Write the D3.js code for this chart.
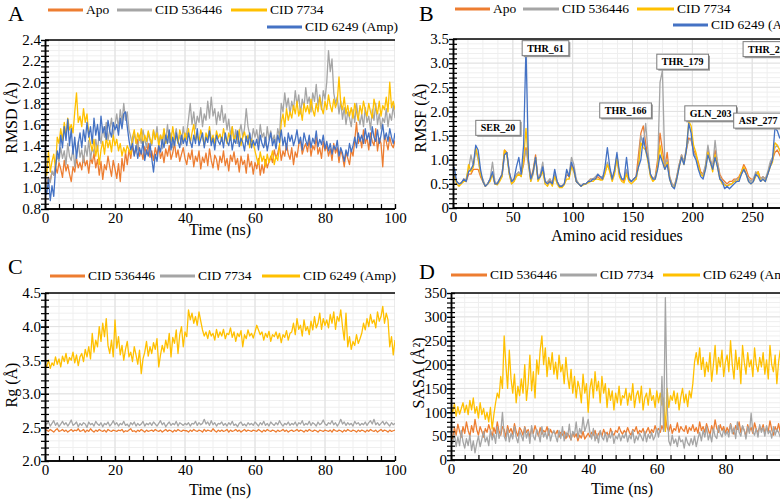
<!DOCTYPE html>
<html><head><meta charset="utf-8">
<script src="https://cdn.jsdelivr.net/npm/d3@7"></script>
<style>
body{margin:0;background:#fff}
svg{display:block}
svg text{font-family:"Liberation Serif","Times New Roman",serif !important;fill:#000}
</style>
</head><body>
<svg id="chart" width="780" height="501"></svg>
<script>
// ---------------- DATA ----------------
// Panel A: RMSD (Å) vs time 0..100 ns (0.5 ns sampling)
const rmsdApo = [1.00,
1.04,1.10,1.07,1.15,1.12,1.20,1.14,1.24,1.18,1.10,1.26,1.16,1.22,1.13,1.06,1.20,1.15,1.28,1.19,1.24,
1.17,1.30,1.21,1.26,1.14,1.29,1.23,1.33,1.19,1.27,1.12,1.25,1.08,1.22,1.17,1.30,1.20,1.11,1.26,1.18,
1.09,1.23,1.06,1.28,1.16,1.34,1.22,1.36,1.28,1.40,1.31,1.37,1.46,1.30,1.35,1.27,1.39,1.32,1.42,1.29,
1.35,1.26,1.38,1.31,1.41,1.28,1.34,1.24,1.37,1.30,1.40,1.27,1.33,1.43,1.29,1.36,1.25,1.32,1.38,1.28,
1.22,1.33,1.27,1.36,1.20,1.30,1.25,1.35,1.18,1.29,1.24,1.33,1.21,1.37,1.26,1.19,1.31,1.27,1.17,1.30,
1.24,1.35,1.21,1.28,1.16,1.31,1.25,1.34,1.22,1.28,1.15,1.30,1.22,1.26,1.14,1.32,1.20,1.25,1.13,1.24,
1.18,1.28,1.12,1.22,1.14,1.27,1.19,1.25,1.30,1.24,1.36,1.28,1.33,1.40,1.26,1.35,1.30,1.42,1.32,1.27,
1.38,1.22,1.34,1.29,1.41,1.45,1.32,1.38,1.42,1.34,1.46,1.30,1.40,1.36,1.48,1.32,1.38,1.28,1.44,1.35,
1.40,1.30,1.37,1.26,1.42,1.33,1.38,1.24,1.36,1.30,1.20,1.34,1.28,1.22,1.36,1.30,1.45,1.62,1.42,1.48,
1.38,1.55,1.42,1.48,1.36,1.52,1.44,1.40,1.56,1.35,1.47,1.42,1.20,1.50,1.44,1.36,1.48,1.41,1.38,1.45];
const rmsd536446 = [0.98,
1.02,1.10,1.05,1.16,1.12,1.22,1.30,1.25,1.38,1.28,1.35,1.22,1.42,1.30,1.26,1.38,1.20,1.33,1.44,1.29,
1.36,1.24,1.40,1.30,1.45,1.27,1.38,1.33,1.46,1.35,1.52,1.42,1.58,1.48,1.62,1.45,1.55,1.66,1.50,1.60,
1.70,1.56,1.74,1.62,1.80,1.64,1.72,1.55,1.48,1.40,1.52,1.44,1.36,1.50,1.42,1.55,1.46,1.38,1.52,1.45,
1.40,1.54,1.46,1.58,1.42,1.50,1.37,1.55,1.45,1.60,1.43,1.52,1.38,1.48,1.56,1.44,1.50,1.41,1.58,1.47,
1.52,1.65,1.80,1.60,1.72,1.56,1.68,1.62,1.76,1.58,1.70,1.64,1.82,1.66,1.86,1.68,1.75,1.60,1.72,1.64,
1.78,1.62,1.70,1.55,1.65,1.50,1.58,1.45,1.55,1.42,1.52,1.60,1.48,1.56,1.75,1.58,1.50,1.44,1.56,1.48,
1.55,1.42,1.60,1.48,1.52,1.40,1.58,1.46,1.54,1.44,1.50,1.42,1.56,1.48,1.80,1.72,1.90,1.76,1.85,1.70,
1.82,1.74,1.92,1.78,1.88,1.70,1.84,1.76,1.95,1.80,1.86,1.72,1.90,1.82,1.98,1.78,1.88,1.74,1.92,1.84,
2.00,2.30,2.10,2.22,1.90,1.80,1.86,1.70,1.82,1.65,1.76,1.60,1.72,1.66,1.58,1.74,1.62,1.80,1.68,1.60,
1.70,1.58,1.76,1.62,1.68,1.55,1.74,1.64,1.80,1.60,1.70,1.56,1.66,1.62,1.75,1.58,1.70,1.64,1.78,1.66];
const rmsd7734 = [1.20,
1.12,1.35,1.15,1.25,1.32,1.18,1.48,1.42,1.56,1.45,1.62,1.50,1.66,1.55,1.60,1.52,1.72,1.90,1.62,1.68,
1.58,1.75,1.62,1.70,1.50,1.42,1.35,1.46,1.30,1.40,1.22,1.36,1.44,1.32,1.48,1.38,1.45,1.34,1.50,1.40,
1.46,1.35,1.42,1.30,1.38,1.33,1.40,1.36,1.32,1.48,1.55,1.42,1.52,1.45,1.56,1.40,1.50,1.44,1.54,1.47,
1.42,1.55,1.46,1.52,1.40,1.50,1.45,1.56,1.42,1.48,1.53,1.44,1.58,1.46,1.50,1.42,1.55,1.48,1.44,1.52,
1.46,1.56,1.42,1.52,1.60,1.45,1.50,1.43,1.55,1.48,1.40,1.52,1.46,1.58,1.44,1.50,1.42,1.54,1.47,1.51,
1.44,1.56,1.48,1.42,1.52,1.45,1.58,1.43,1.50,1.46,1.55,1.40,1.48,1.53,1.44,1.50,1.38,1.46,1.42,1.35,
1.28,1.22,1.34,1.25,1.30,1.20,1.32,1.24,1.28,1.35,1.22,1.30,1.26,1.40,1.62,1.70,1.58,1.75,1.64,1.72,
1.66,1.78,1.70,1.82,1.68,1.75,1.64,1.80,1.72,1.78,1.70,1.84,1.74,1.68,1.80,1.72,1.86,1.76,1.70,1.82,
1.74,1.88,1.78,1.72,1.84,1.76,1.82,2.05,1.80,1.74,1.86,1.70,1.78,1.68,1.76,1.66,1.80,1.72,1.64,1.78,
1.70,1.82,1.74,1.68,1.80,1.72,1.66,1.84,1.76,1.70,1.82,1.68,1.78,1.74,1.86,1.72,2.00,1.76,1.82,1.74];
const rmsd6249 = [1.00,
0.94,1.08,0.88,1.02,0.92,1.18,1.35,1.28,1.50,1.38,1.58,1.45,1.65,1.40,1.56,1.32,1.48,1.28,1.42,1.52,
1.38,1.55,1.44,1.62,1.48,1.58,1.42,1.66,1.50,1.60,1.45,1.68,1.52,1.58,1.46,1.64,1.54,1.48,1.62,1.55,
1.60,1.50,1.66,1.56,1.70,1.72,1.58,1.45,1.36,1.42,1.30,1.40,1.28,1.38,1.32,1.44,1.26,1.36,1.30,1.42,
1.28,1.15,1.32,1.25,1.40,1.34,1.46,1.38,1.50,1.42,1.55,1.36,1.48,1.40,1.52,1.44,1.38,1.50,1.42,1.47,
1.40,1.52,1.44,1.38,1.50,1.42,1.56,1.40,1.46,1.52,1.38,1.48,1.43,1.54,1.40,1.47,1.36,1.50,1.44,1.41,
1.48,1.38,1.52,1.44,1.40,1.50,1.36,1.46,1.42,1.54,1.39,1.47,1.43,1.35,1.49,1.41,1.52,1.38,1.45,1.40,
1.46,1.36,1.50,1.42,1.38,1.48,1.35,1.44,1.52,1.40,1.46,1.37,1.50,1.43,1.55,1.40,1.48,1.36,1.52,1.44,
1.50,1.40,1.46,1.55,1.42,1.48,1.36,1.52,1.45,1.40,1.50,1.38,1.47,1.42,1.54,1.39,1.46,1.41,1.50,1.37,
1.44,1.35,1.42,1.32,1.40,1.36,1.45,1.30,1.38,1.33,1.25,1.36,1.30,1.42,1.34,1.40,1.48,1.38,1.52,1.44,
1.50,1.42,1.56,1.46,1.52,1.40,1.58,1.48,1.44,1.55,1.42,1.50,1.60,1.46,1.52,1.44,1.56,1.48,1.42,1.52];

// Panel B: RMSF (Å) per residue (odd residues 1,3,5,...)
const rmsfApo = [
0.7,0.55,0.5,0.52,0.6,0.55,0.7,0.7,0.8,0.8,0.8,0.65,0.55,0.45,0.5,0.6,0.7,0.5,0.5,0.6,0.7,1.2,1.15,0.75,0.55,
0.6,0.7,0.7,0.7,0.9,1.25,1.0,0.6,0.8,1.1,0.6,0.7,0.8,0.55,0.5,0.6,0.5,0.7,0.55,0.45,0.45,0.5,0.7,0.65,0.9,
0.8,0.55,0.5,0.45,0.5,0.5,0.55,0.6,0.6,0.6,0.65,0.6,0.6,0.75,0.9,0.8,0.6,0.75,1.05,0.7,0.6,0.55,0.75,0.6,0.55,
0.6,0.65,1.1,1.55,1.7,1.35,1.0,0.7,0.6,0.65,1.0,1.55,1.2,0.85,1.15,0.65,0.5,0.45,0.65,0.9,1.1,0.95,1.2,1.45,1.4,
1.2,1.1,0.95,0.75,0.7,0.85,1.2,1.0,0.85,1.2,0.95,0.7,0.6,0.55,0.5,0.55,0.55,0.6,0.6,0.65,0.75,0.9,0.8,0.65,0.6,
0.6,0.7,0.75,0.6,0.65,0.6,0.7,0.9,1.0,1.15,1.2,1.1,1.0,0.95,0.9,1.05,1.25,1.4,1.1,0.95];
const rmsf536446 = [
0.7,0.55,0.5,0.52,0.58,0.6,0.8,1.1,0.85,1.2,1.0,0.7,0.6,0.45,0.5,0.6,0.95,0.55,0.5,0.6,0.65,1.1,1.15,0.7,0.5,
0.55,0.7,0.75,0.65,1.0,1.2,0.9,0.55,0.7,1.05,0.6,0.7,0.95,0.5,0.55,0.6,0.5,0.7,0.55,0.45,0.45,0.5,0.7,0.7,1.05,
0.9,0.6,0.5,0.45,0.5,0.5,0.55,0.6,0.6,0.65,0.7,0.65,0.65,0.75,0.95,0.8,0.6,0.75,1.1,0.7,0.6,0.6,0.8,0.6,0.55,
0.6,0.6,0.9,1.5,1.3,1.75,1.15,0.7,0.6,0.65,0.85,2.6,2.85,0.9,1.0,0.65,0.5,0.45,0.65,0.9,1.1,0.95,1.25,1.4,1.45,
1.15,1.05,0.85,0.7,0.7,0.9,1.3,1.0,0.85,1.4,0.95,0.65,0.55,0.5,0.45,0.5,0.5,0.55,0.6,0.6,0.7,0.8,0.7,0.6,0.55,
0.6,0.75,0.7,0.6,0.65,0.6,0.75,0.95,1.05,1.25,1.3,1.2,1.1,1.0,0.95,1.1,1.3,1.5,1.2,1.0];
const rmsf7734 = [
0.65,0.5,0.45,0.5,0.55,0.55,0.9,0.75,0.85,1.25,1.05,0.7,0.55,0.45,0.5,0.55,0.7,0.5,0.48,0.55,0.65,1.2,1.1,0.7,0.5,
0.55,0.65,0.7,0.65,1.0,1.65,0.95,0.55,0.75,1.05,0.55,0.65,0.75,0.5,0.45,0.55,0.45,0.65,0.5,0.42,0.42,0.48,0.6,0.6,0.85,
0.75,0.55,0.5,0.45,0.48,0.5,0.52,0.55,0.55,0.6,0.6,0.58,0.58,0.7,0.9,0.75,0.55,0.7,1.05,0.65,0.55,0.52,0.7,0.55,0.5,
0.55,0.6,0.85,1.35,1.25,1.2,0.95,0.65,0.55,0.6,0.85,1.3,1.0,0.8,0.95,0.6,0.45,0.42,0.6,0.85,1.05,0.9,1.2,1.8,1.7,
1.3,1.15,0.9,0.7,0.65,0.8,1.15,0.95,0.75,1.1,0.85,0.6,0.5,0.48,0.45,0.48,0.5,0.55,0.55,0.6,0.75,0.85,0.7,0.55,0.5,
0.55,0.65,0.75,0.55,0.6,0.55,0.7,0.85,0.95,1.35,1.3,1.2,1.05,0.95,0.9,1.05,1.2,1.3,1.0,0.9];
const rmsf6249 = [
0.85,0.55,0.5,0.52,0.6,0.55,0.75,0.8,0.9,1.3,1.2,0.8,0.55,0.45,0.5,0.6,0.75,0.5,0.5,0.6,0.7,1.1,1.15,0.75,0.55,
0.6,0.85,1.05,0.7,1.3,3.35,1.0,0.6,0.75,1.05,0.6,0.65,0.85,0.55,0.5,0.55,0.5,0.8,0.55,0.45,0.45,0.5,0.8,0.65,0.95,
0.8,0.55,0.5,0.45,0.5,0.5,0.55,0.55,0.6,0.6,0.7,0.65,0.6,0.85,1.25,0.85,0.6,0.8,1.15,0.75,0.6,0.6,1.05,0.6,0.55,
0.6,0.65,0.85,1.0,1.45,1.2,1.0,0.7,0.6,0.6,0.8,1.1,0.95,0.8,0.9,0.6,0.45,0.4,0.6,0.85,1.05,0.9,1.2,1.75,1.55,
1.1,1.0,0.8,0.65,0.6,0.8,1.1,0.95,0.8,1.05,0.85,0.6,0.55,0.4,0.45,0.4,0.45,0.5,0.55,0.55,0.7,0.8,0.7,0.55,0.5,
0.55,0.7,0.65,0.55,0.6,0.55,0.7,0.85,1.0,1.65,1.6,1.45,1.5,1.3,1.1,1.2,1.5,1.9,1.4,1.1];
const rmsfLabels = ["SER_20","THR_61","THR_166","THR_179","GLN_203","ASP_277","THR_292"];
const rmsfLabelAt = [[37.6,1.66],[77.3,3.31],[144.2,2.02],[191.9,3.03],[215.3,1.96],[255,1.81],[264,3.29]];

// Panel C: Rg (Å) vs time
const rg536446 = [2.45,
2.46,2.44,2.47,2.45,2.43,2.46,2.48,2.44,2.45,2.47,2.44,2.46,2.43,2.45,2.47,2.44,2.46,2.45,2.48,2.44,
2.45,2.47,2.43,2.46,2.44,2.48,2.45,2.43,2.46,2.44,2.47,2.45,2.44,2.46,2.43,2.47,2.45,2.44,2.46,2.45,
2.44,2.46,2.45,2.47,2.43,2.45,2.44,2.46,2.48,2.44,2.45,2.43,2.46,2.44,2.47,2.45,2.43,2.46,2.44,2.45,
2.46,2.44,2.47,2.45,2.44,2.46,2.43,2.45,2.47,2.44,2.46,2.45,2.43,2.46,2.44,2.47,2.45,2.44,2.46,2.45,
2.45,2.43,2.46,2.44,2.47,2.45,2.44,2.46,2.45,2.43,2.47,2.44,2.46,2.45,2.44,2.48,2.45,2.43,2.46,2.44,
2.46,2.44,2.45,2.47,2.43,2.46,2.44,2.45,2.47,2.44,2.46,2.43,2.45,2.47,2.44,2.46,2.45,2.44,2.46,2.45,
2.44,2.47,2.45,2.43,2.46,2.44,2.47,2.45,2.44,2.46,2.45,2.43,2.46,2.44,2.45,2.47,2.44,2.46,2.43,2.45,
2.46,2.44,2.45,2.47,2.44,2.46,2.45,2.43,2.46,2.44,2.47,2.45,2.44,2.46,2.45,2.43,2.46,2.45,2.44,2.46,
2.45,2.44,2.46,2.43,2.47,2.45,2.44,2.46,2.45,2.43,2.46,2.44,2.47,2.45,2.44,2.46,2.45,2.43,2.46,2.44,
2.46,2.45,2.43,2.46,2.44,2.47,2.45,2.44,2.46,2.43,2.45,2.47,2.44,2.46,2.45,2.43,2.46,2.44,2.45,2.46];
const rg7734 = [2.56,
2.55,2.58,2.52,2.56,2.60,2.53,2.57,2.51,2.55,2.59,2.54,2.57,2.52,2.56,2.61,2.53,2.55,2.58,2.51,2.56,
2.53,2.57,2.55,2.50,2.58,2.54,2.56,2.52,2.59,2.55,2.53,2.57,2.51,2.56,2.54,2.58,2.52,2.55,2.60,2.54,
2.57,2.52,2.56,2.54,2.59,2.53,2.55,2.51,2.57,2.54,2.58,2.52,2.56,2.53,2.55,2.59,2.52,2.56,2.54,2.57,
2.53,2.58,2.55,2.52,2.56,2.60,2.54,2.57,2.51,2.55,2.58,2.53,2.56,2.54,2.59,2.52,2.57,2.55,2.53,2.56,
2.54,2.57,2.52,2.56,2.55,2.59,2.53,2.57,2.54,2.56,2.62,2.55,2.58,2.53,2.60,2.54,2.57,2.52,2.56,2.55,
2.58,2.53,2.56,2.52,2.57,2.54,2.59,2.53,2.55,2.51,2.56,2.58,2.53,2.55,2.52,2.57,2.54,2.56,2.53,2.58,
2.55,2.52,2.57,2.54,2.59,2.53,2.56,2.52,2.58,2.55,2.53,2.57,2.54,2.60,2.55,2.52,2.56,2.54,2.58,2.53,
2.56,2.54,2.58,2.52,2.57,2.55,2.60,2.53,2.56,2.54,2.59,2.53,2.57,2.55,2.52,2.58,2.54,2.56,2.61,2.55,
2.53,2.57,2.55,2.60,2.54,2.57,2.52,2.56,2.62,2.55,2.58,2.53,2.57,2.54,2.56,2.52,2.59,2.55,2.57,2.53,
2.56,2.54,2.58,2.53,2.57,2.60,2.55,2.62,2.54,2.57,2.53,2.56,2.59,2.54,2.58,2.55,2.52,2.57,2.54,2.56];
const rg6249 = [3.45,
3.40,3.50,3.38,3.46,3.42,3.55,3.44,3.52,3.40,3.56,3.48,3.60,3.45,3.54,3.50,3.62,3.46,3.58,3.42,3.55,
3.60,3.48,3.66,3.55,3.70,3.52,3.90,3.62,3.80,3.70,4.00,3.78,4.05,3.85,4.12,3.72,3.60,3.80,3.55,4.10,
3.68,3.85,3.58,3.72,3.50,3.66,3.78,3.55,3.62,3.48,3.70,3.58,3.44,3.65,3.30,3.52,3.62,3.78,3.56,3.70,
3.60,3.76,3.66,3.82,3.40,3.58,3.72,3.62,3.80,3.68,3.90,3.55,3.84,3.75,3.95,3.60,3.88,4.00,3.70,3.92,
3.85,4.25,4.10,4.20,4.05,4.15,4.02,4.22,4.08,3.95,3.86,3.92,3.82,3.94,3.86,3.90,3.80,3.96,3.84,3.92,
3.86,3.96,3.82,3.90,3.88,3.98,3.84,3.92,3.78,3.90,3.85,3.94,3.70,3.88,3.82,3.95,3.86,3.90,3.83,3.92,
4.02,3.95,3.88,3.92,3.80,3.90,3.84,3.93,3.78,3.88,3.85,3.92,3.82,3.90,3.76,3.88,3.84,3.94,3.80,3.90,
3.92,4.05,3.88,4.12,3.96,4.02,3.86,4.10,3.94,4.00,3.88,4.08,3.95,4.15,3.98,4.05,4.20,3.96,4.12,4.02,
4.10,3.98,4.18,4.05,4.22,3.96,4.15,4.08,4.25,4.00,3.80,4.20,3.70,3.85,3.66,3.78,3.72,3.88,3.75,3.82,
3.90,4.05,3.95,4.12,4.00,4.18,4.05,4.10,3.98,4.22,4.08,4.15,4.30,4.05,4.20,4.10,3.70,3.85,3.58,3.80];

// Panel D: SASA (Å²) vs time
const sasa536446 = [55,
45,68,52,75,60,48,70,56,80,62,50,72,58,85,64,52,70,60,48,66,
58,74,62,50,68,56,80,60,52,70,64,48,72,58,66,54,76,60,50,68,
62,52,70,58,64,48,66,56,72,60,50,68,54,62,58,70,52,64,56,60,
54,62,48,58,52,60,45,56,50,42,58,48,55,40,52,46,60,44,50,56,
48,58,52,62,46,55,60,50,64,54,58,48,66,56,52,62,58,70,60,54,
62,56,68,58,52,64,60,70,55,62,58,66,52,60,68,56,64,58,72,60,
66,58,72,62,90,68,60,74,56,66,62,78,58,70,64,60,72,56,68,62,
74,60,68,56,80,62,70,58,76,64,52,72,60,84,66,58,74,62,70,56,
68,58,76,62,54,72,64,80,58,70,62,50,74,60,68,56,78,64,58,70,
62,74,56,68,60,82,64,52,70,60,76,58,66,54,72,62,58,68,56,64];
const sasa7734 = [40,
35,55,28,48,30,62,38,25,45,30,52,20,40,15,35,50,28,44,60,38,
48,30,62,42,55,35,70,45,58,100,50,40,65,38,56,44,70,48,36,60,
52,40,68,46,60,35,72,50,42,64,55,38,70,48,58,44,66,40,54,62,
50,38,62,45,70,40,58,48,75,42,60,52,80,46,66,55,90,60,72,85,
58,44,66,40,55,36,62,48,42,58,38,54,46,60,35,50,44,56,40,52,
46,58,38,52,44,62,36,50,42,56,48,40,60,38,54,45,58,42,50,66,
48,70,175,60,340,120,40,30,52,35,44,28,50,38,42,25,48,36,30,45,
32,50,28,45,58,40,62,48,70,42,55,38,66,50,45,72,56,48,64,52,
60,48,75,55,68,45,80,58,50,72,62,44,70,56,98,60,52,66,48,74,
58,68,50,72,55,62,46,70,52,64,58,48,66,40,35,30,42,28,38,32];
const sasa6249 = [110,
100,118,92,112,96,108,120,100,115,95,125,105,130,98,112,88,120,95,108,85,
100,80,110,65,95,120,140,130,175,150,260,200,150,230,170,140,180,120,155,135,
170,140,200,125,160,220,145,185,130,210,180,230,260,200,235,175,215,190,225,180,
205,170,220,185,200,160,215,175,150,190,140,175,130,165,150,120,180,140,160,100,
150,170,130,185,145,165,120,175,140,160,110,150,125,145,105,140,120,155,115,135,
130,150,115,140,125,160,110,135,145,120,155,105,130,140,115,150,125,135,110,145,
120,140,115,130,60,150,110,135,125,145,118,140,105,132,150,120,138,112,145,130,
160,205,225,200,235,190,215,175,205,185,225,165,200,240,180,215,195,230,175,205,
220,185,250,200,170,230,190,215,160,240,205,180,225,195,210,175,235,200,185,215,
195,225,180,210,170,240,200,185,220,160,205,230,190,215,175,250,200,225,190,210];

const xTickA = [0,20,40,60,80,100];
const yTickA = [0.8,1.0,1.2,1.4,1.6,1.8,2.0,2.2,2.4];
const xTickB = [0,50,100,150,200,250];
const yTickB = [0,0.5,1.0,1.5,2.0,2.5,3.0,3.5];
const yTickC = [2.0,2.5,3.0,3.5,4.0,4.5];
const yTickD = [0,50,100,150,200,250,300,350];

const COL = {orange:"#ED7D31", gray:"#A5A5A5", yellow:"#FFC000", blue:"#4472C4"};
const W = 780;
const FONT = '"Liberation Serif","Times New Roman",serif';
const svg = d3.select("#chart");
const defs = svg.append("defs");

const timeOf = arr => arr.map((v,i)=>[i*100/(arr.length-1), v]);
const resOf = arr => arr.map((v,i)=>[1+2*i, v]);

function drawPanel(p){
  const x = d3.scaleLinear().domain(p.xDomain).range(p.xRange);
  const y = d3.scaleLinear().domain(p.yDomain).range(p.yRange);
  const left = p.xRange[0], right = Math.min(p.xRange[1], W);
  const yb = p.yRange[0], yt = p.yRange[1];
  const g = svg.append("g");
  const cid = "clip-"+p.key;
  defs.append("clipPath").attr("id",cid).append("rect")
    .attr("x",left).attr("y",yt).attr("width",right-left).attr("height",yb-yt);
  const inView = v => x(v) <= W + 0.5;
  const eps = 1e-9;
  const xMinor = d3.range(p.xDomain[0], p.xDomain[1]+eps, p.xMinor).filter(inView);
  const yMinor = d3.range(p.yDomain[0], p.yDomain[1]+eps, p.yMinor);
  const grid = g.append("g").attr("clip-path",`url(#${cid})`);
  grid.selectAll(".gx").data(xMinor).join("line")
    .attr("x1",d=>x(d)).attr("x2",d=>x(d)).attr("y1",yt).attr("y2",yb)
    .attr("stroke","#efefef").attr("stroke-width",1);
  grid.selectAll(".gy").data(yMinor).join("line")
    .attr("x1",left).attr("x2",right).attr("y1",d=>y(d)).attr("y2",d=>y(d))
    .attr("stroke","#efefef").attr("stroke-width",1);
  grid.selectAll(".gX").data(p.xTicks.filter(inView)).join("line")
    .attr("x1",d=>x(d)).attr("x2",d=>x(d)).attr("y1",yt).attr("y2",yb)
    .attr("stroke","#dedede").attr("stroke-width",1);
  grid.selectAll(".gY").data(p.yTicks).join("line")
    .attr("x1",left).attr("x2",right).attr("y1",d=>y(d)).attr("y2",d=>y(d))
    .attr("stroke","#e2e2e2").attr("stroke-width",1);

  const line = d3.line().x(d=>x(d[0])).y(d=>y(d[1]));
  const lg = g.append("g").attr("clip-path",`url(#${cid})`);
  p.series.forEach(s=>{
    lg.append("path").datum(s.points).attr("d",line)
      .attr("fill","none").attr("stroke",s.color).attr("stroke-width",1.3)
      .attr("stroke-linejoin","round");
  });

  g.append("line").attr("x1",left).attr("x2",right).attr("y1",yt).attr("y2",yt)
    .attr("stroke","#000").attr("stroke-width",1.5);

  const xa = g.append("g").attr("transform",`translate(0,${yb})`);
  xa.call(d3.axisBottom(x).tickValues(xMinor).tickSize(-5).tickSizeOuter(0).tickFormat(""));
  const xl = g.append("g").attr("transform",`translate(0,${yb})`);
  xl.call(d3.axisBottom(x).tickValues(p.xTicks.filter(inView)).tickSize(-5).tickSizeOuter(0).tickPadding(3).tickFormat(d3.format("d")));
  [xa,xl].forEach(a=>{
    a.attr("font-family",null).attr("font-size",null);
    a.select(".domain").attr("stroke","#000").attr("stroke-width",1.5).attr("d",`M${left},0H${right}`);
    a.selectAll(".tick line").attr("stroke","#000").attr("stroke-width",1.2);
  });
  xl.selectAll("text").style("font-size","15px").style("font-family",FONT);

  const ya = g.append("g").attr("transform",`translate(${left},0)`);
  ya.call(d3.axisLeft(y).tickValues(yMinor).tickSize(4).tickSizeOuter(0).tickFormat(""));
  const yl = g.append("g").attr("transform",`translate(${left},0)`);
  yl.call(d3.axisLeft(y).tickValues(p.yTicks).tickSize(4).tickSizeOuter(0).tickPadding(0).tickFormat(p.yFormat));
  [ya,yl].forEach(a=>{
    a.attr("font-family",null).attr("font-size",null);
    a.select(".domain").attr("stroke","#000").attr("stroke-width",1.5);
    a.selectAll(".tick line").attr("x1",4).attr("stroke","#000").attr("stroke-width",1.2);
  });
  yl.selectAll("text").style("font-size","15px").style("font-family",FONT);

  svg.append("text").attr("x",p.xTitle[0]).attr("y",p.xTitle[1]).attr("text-anchor","middle")
    .style("font-size","16px").text(p.xLabel);
  svg.append("text").attr("transform",`translate(${p.yTitle[0]},${p.yTitle[1]}) rotate(-90)`)
    .attr("text-anchor","middle").style("font-size","16px").text(p.yLabel);
  svg.append("text").attr("x",p.letter[0]).attr("y",p.letter[1]).style("font-size","22px").text(p.key);

  p.legend.forEach((it,i)=>{
    const pos = p.legendPos[i];
    svg.append("line").attr("x1",pos[0]).attr("x2",pos[0]+pos[2]).attr("y1",pos[1]).attr("y2",pos[1])
      .attr("stroke",it.color).attr("stroke-width",3);
    svg.append("text").attr("x",pos[0]+pos[2]+3).attr("y",pos[1]).attr("dy","0.33em")
      .style("font-size","13.5px").text(it.name);
  });
  return {x,y,g};
}

drawPanel({
  key:"A", xDomain:[0,100], xRange:[45,395], yDomain:[0.8,2.4], yRange:[209,40],
  xTicks:xTickA, yTicks:yTickA, xMinor:4, yMinor:0.05, yFormat:d3.format(".1f"),
  series:[
    {points:timeOf(rmsdApo), color:COL.orange},
    {points:timeOf(rmsd536446), color:COL.gray},
    {points:timeOf(rmsd7734), color:COL.yellow},
    {points:timeOf(rmsd6249), color:COL.blue}],
  xLabel:"Time (ns)", xTitle:[220,235], yLabel:"RMSD (Å)", yTitle:[17,118], letter:[8,21],
  legend:[{name:"Apo",color:COL.orange},{name:"CID 536446",color:COL.gray},{name:"CID 7734",color:COL.yellow},{name:"CID 6249 (Amp)",color:COL.blue}],
  legendPos:[[48,10,35],[117,10,35],[231,10,36],[267,27,35]]
});

const pB = drawPanel({
  key:"B", xDomain:[0,300], xRange:[453,812], yDomain:[0,3.5], yRange:[208,39],
  xTicks:xTickB, yTicks:yTickB, xMinor:12.5, yMinor:0.1, yFormat:d=>d===0?"0":d3.format(".1f")(d),
  series:[
    {points:resOf(rmsfApo), color:COL.orange},
    {points:resOf(rmsf536446), color:COL.gray},
    {points:resOf(rmsf7734), color:COL.yellow},
    {points:resOf(rmsf6249), color:COL.blue}],
  xLabel:"Amino acid residues", xTitle:[617,241], yLabel:"RMSF (Å)", yTitle:[426,118], letter:[419,21],
  legend:[{name:"Apo",color:COL.orange},{name:"CID 536446",color:COL.gray},{name:"CID 7734",color:COL.yellow},{name:"CID 6249 (Amp)",color:COL.blue}],
  legendPos:[[455,9,35],[523,9,36],[637,9,37],[673,25,35]]
});
rmsfLabels.forEach((lab,i)=>{
  const cx = pB.x(rmsfLabelAt[i][0]), cy = pB.y(rmsfLabelAt[i][1]);
  const gg = svg.append("g");
  const t = gg.append("text").attr("x",cx).attr("y",cy).attr("text-anchor","middle").attr("dy","0.35em")
    .style("font-size","10px").style("font-weight","bold").text(lab);
  const w = t.node().getComputedTextLength()+10, h = 15;
  gg.insert("rect","text").attr("x",cx-w/2+1.5).attr("y",cy-h/2+1.5).attr("width",w).attr("height",h).attr("fill","#9a9a9a");
  gg.insert("rect","text").attr("x",cx-w/2).attr("y",cy-h/2).attr("width",w).attr("height",h)
    .attr("fill","#fff").attr("stroke","#7a7a7a").attr("stroke-width",1);
});

drawPanel({
  key:"C", xDomain:[0,100], xRange:[45,395], yDomain:[2.0,4.5], yRange:[461,293],
  xTicks:xTickA, yTicks:yTickC, xMinor:4, yMinor:0.1, yFormat:d3.format(".1f"),
  series:[
    {points:timeOf(rg536446), color:COL.orange},
    {points:timeOf(rg7734), color:COL.gray},
    {points:timeOf(rg6249), color:COL.yellow}],
  xLabel:"Time (ns)", xTitle:[220,495], yLabel:"Rg (Å)", yTitle:[17,385], letter:[8,274],
  legend:[{name:"CID 536446",color:COL.orange},{name:"CID 7734",color:COL.gray},{name:"CID 6249 (Amp)",color:COL.yellow}],
  legendPos:[[50,276,35],[160,276,35],[262,276,38]]
});

drawPanel({
  key:"D", xDomain:[0,100], xRange:[451,794], yDomain:[0,350], yRange:[460,293],
  xTicks:xTickA, yTicks:yTickD, xMinor:4, yMinor:10, yFormat:d3.format("d"),
  series:[
    {points:timeOf(sasa536446), color:COL.orange},
    {points:timeOf(sasa6249), color:COL.yellow},
    {points:timeOf(sasa7734), color:COL.gray}],
  xLabel:"Time (ns)", xTitle:[622,494], yLabel:"SASA (Å²)", yTitle:[424,373], letter:[419,279],
  legend:[{name:"CID 536446",color:COL.orange},{name:"CID 7734",color:COL.gray},{name:"CID 6249 (Amp)",color:COL.yellow}],
  legendPos:[[451,275,36],[560,275,37],[663,275,37]]
});
</script>
</body></html>
